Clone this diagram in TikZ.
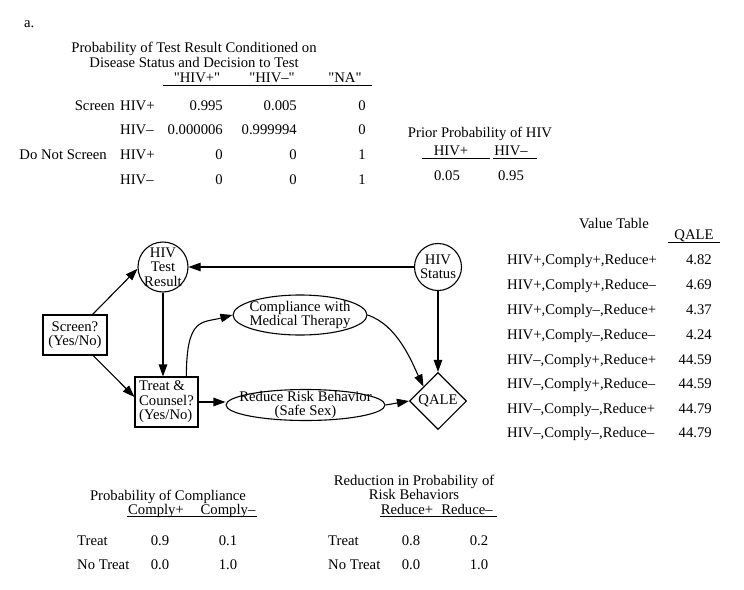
\documentclass[tikz,border=0pt]{standalone}
\usepackage{fontspec}
\setmainfont{Liberation Serif}
\newfontfamily\rawserif{Liberation Serif}
\newcommand{\sq}{{\rawserif"}}
\usetikzlibrary{shapes.geometric,arrows.meta,calc}
\begin{document}
\begin{tikzpicture}[x=1pt,y=-1pt,
  txt/.style={font=\fontsize{14.7}{14.5}\selectfont, inner sep=0pt},
  arr/.style={line width=1.1pt, -{Triangle[length=12pt,width=8.5pt]}},
  shp/.style={draw, line width=1.1pt, inner sep=0pt},
  rulel/.style={line width=0.8pt}]
\useasboundingbox (0,0) rectangle (744,589);

% ---------- top table ----------
\node[txt, anchor=mid west] (lbla) at (24,25) {a.};
\node[txt, align=center] (ttitle) at (194,55) {Probability of Test Result Conditioned on\\Disease Status and Decision to Test};
\node[txt, anchor=mid] (h1) at (197,80) {\sq HIV+\sq};
\node[txt, anchor=mid] (h2) at (272,80) {\sq HIV–\sq};
\node[txt, anchor=mid] (h3) at (345,80) {\sq NA\sq};
\coordinate (u1a) at (163,85); \coordinate (u1b) at (372,85);
\draw[rulel] (u1a) -- (u1b);
\node[txt, anchor=mid east] (rs) at (115,108) {Screen};
\node[txt, anchor=mid east] (rd) at (107,157) {Do Not Screen};
\foreach \y/\lab/\a/\b/\c [count=\i] in {108/HIV+/0.995/0.005/0, 132/HIV–/0.000006/0.999994/0, 157/HIV+/0/0/1, 182/HIV–/0/0/1} {
  \node[txt, anchor=mid west] (rl\i) at (120,\y) {\lab};
  \node[txt, anchor=mid east] (ta\i) at (223,\y) {\a};
  \node[txt, anchor=mid east] (tb\i) at (297,\y) {\b};
  \node[txt, anchor=mid east] (tc\i) at (366,\y) {\c};
}

% ---------- prior ----------
\node[txt, anchor=mid] (ptitle) at (480,135) {Prior Probability of HIV};
\node[txt, anchor=mid] (ph1) at (451,153) {HIV+};
\node[txt, anchor=mid] (ph2) at (511,153) {HIV–};
\coordinate (pu1) at (422,158); \coordinate (pu2) at (490,158);
\coordinate (pu3) at (493,158); \coordinate (pu4) at (537,158);
\draw[rulel] (pu1) -- (pu2);
\draw[rulel] (pu3) -- (pu4);
\node[txt, anchor=mid] (pv1) at (447,178) {0.05};
\node[txt, anchor=mid] (pv2) at (511,178) {0.95};

% ---------- flowchart ----------
\node[shp, circle, minimum size=50pt] (testc) at (163,267) {};
\node[txt, align=center] (testt) at (testc) {HIV\\Test\\Result};
\node[shp, circle, minimum size=47pt] (statusc) at (438,267) {};
\node[txt, align=center] (statust) at (statusc) {HIV\\Status};
\node[shp, rectangle, minimum width=64pt, minimum height=40pt, align=center, font=\fontsize{14.7}{14.5}\selectfont] (screenb) at (75,335) {Screen?\\(Yes/No)};
\node[shp, rectangle, minimum width=63pt, minimum height=50pt, align=left, font=\fontsize{14.7}{14.5}\selectfont] (treatb) at (166.5,402) {Treat \&\\Counsel?\\(Yes/No)};
\node[shp, ellipse, minimum width=134pt, minimum height=40pt] (compl) at (300,315) {};
\node[txt, align=center] (complt) at (compl) {Compliance with\\Medical Therapy};
\node[shp, ellipse, minimum width=159pt, minimum height=31pt] (reduce) at (305.5,405) {};
\node[txt, align=center] (reducet) at (reduce) {Reduce Risk Behavior\\(Safe Sex)};
\node[shp, diamond, minimum width=57pt, minimum height=57pt, font=\fontsize{14.7}{14.5}\selectfont] (qale) at (438,401) {QALE};

\coordinate (scrA) at ($(screenb.north west)!0.77!(screenb.north east)$);
\coordinate (scrB) at ($(screenb.south west)!0.78!(screenb.south east)$);
\coordinate (trtA) at ($(treatb.north west)!0.81!(treatb.north east)$);
\draw[arr] (scrA) -- (testc.184);
\draw[arr] (scrB) -- ($(treatb.west)+(0,-5)$);
\draw[arr] (testc.south) -- (testc.south |- treatb.north);
\draw[arr] (statusc.west) -- (testc.east);
\draw[arr] (trtA) .. controls +(0,-60) and +(-30,8) .. (compl.west);
\draw[arr] (treatb.east) -- (treatb.east -| reduce.west);
\draw[arr] (reduce.east) -- (qale.west);
\draw[arr] (compl.east) .. controls +(30,10) and +(-12,-25) .. (qale.north west);
\draw[arr] (statusc.south) -- (qale.north);

% ---------- value table ----------
\node[txt, anchor=mid] (vtitle) at (614,226) {Value Table};
\node[txt, anchor=mid] (vq) at (694,237) {QALE};
\coordinate (vu1) at (668,242); \coordinate (vu2) at (720,242);
\draw[rulel] (vu1) -- (vu2);
\foreach \y/\lab/\v [count=\i] in {262/{HIV+,Comply+,Reduce+}/4.82, 287/{HIV+,Comply+,Reduce–}/4.69, 312/{HIV+,Comply–,Reduce+}/4.37, 337/{HIV+,Comply–,Reduce–}/4.24, 362/{HIV–,Comply+,Reduce+}/44.59, 386/{HIV–,Comply+,Reduce–}/44.59, 411/{HIV–,Comply–,Reduce+}/44.79, 435/{HIV–,Comply–,Reduce–}/44.79} {
  \node[txt, anchor=mid west] (vl\i) at (507,\y) {\lab};
  \node[txt, anchor=mid east] (vv\i) at (712,\y) {\v};
}

% ---------- compliance table ----------
\node[txt, anchor=mid] (ctitle) at (168,498) {Probability of Compliance};
\node[txt, anchor=mid] (ch1) at (156,512) {Comply+};
\node[txt, anchor=mid] (ch2) at (228,512) {Comply–};
\coordinate (cu1) at (127,516); \coordinate (cu2) at (257,516);
\draw[rulel] (cu1) -- (cu2);
\node[txt, anchor=mid west] (cr1) at (77,543) {Treat};
\node[txt, anchor=mid west] (cr2) at (77,567) {No Treat};
\node[txt, anchor=mid] (cv11) at (160,543) {0.9};
\node[txt, anchor=mid] (cv12) at (228,543) {0.1};
\node[txt, anchor=mid] (cv21) at (160,567) {0.0};
\node[txt, anchor=mid] (cv22) at (228,567) {1.0};

% ---------- reduction table ----------
\node[txt, anchor=mid] (rtitle1) at (414,483) {Reduction in Probability of};
\node[txt, anchor=mid] (rtitle2) at (414,497) {Risk Behaviors};
\node[txt, anchor=mid] (rh1) at (407,512) {Reduce+};
\node[txt, anchor=mid] (rh2) at (467,512) {Reduce–};
\coordinate (ru1) at (380,516); \coordinate (ru2) at (497,516);
\draw[rulel] (ru1) -- (ru2);
\node[txt, anchor=mid west] (rr1) at (328,543) {Treat};
\node[txt, anchor=mid west] (rr2) at (328,567) {No Treat};
\node[txt, anchor=mid] (rv11) at (411,543) {0.8};
\node[txt, anchor=mid] (rv12) at (479,543) {0.2};
\node[txt, anchor=mid] (rv21) at (411,567) {0.0};
\node[txt, anchor=mid] (rv22) at (479,567) {1.0};
\end{tikzpicture}
\end{document}
